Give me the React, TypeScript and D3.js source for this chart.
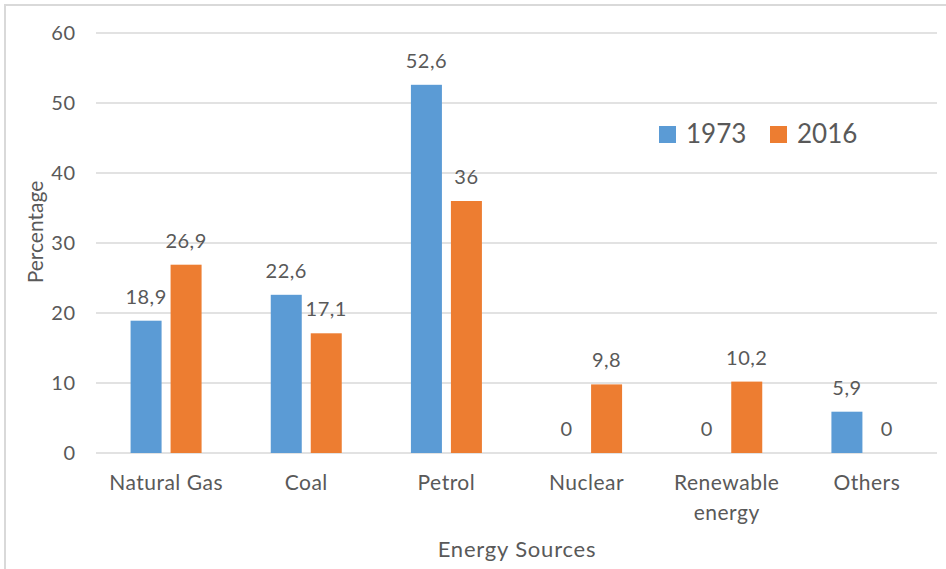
import React from "react";
import * as d3 from "d3";

const categories = ["Natural Gas", "Coal", "Petrol", "Nuclear", "Renewable energy", "Others"];
const series = ["1973", "2016"];
const values1973 = [18.9, 22.6, 52.6, 0, 0, 5.9];
const values2016 = [26.9, 17.1, 36, 9.8, 10.2, 0];
const yTicks = [0, 10, 20, 30, 40, 50, 60];
const colors = ["#5b9bd5", "#ed7d31"];

const W = 946;
const H = 569;
const FONT = "Lato, 'Open Sans', sans-serif";
const TEXT = "#595959";

const fmt = (v: number) => String(v).replace(".", ",");

export default function App() {
  const x = d3.scaleBand<string>().domain(categories).range([96, 937]);
  const y = d3.scaleLinear().domain([0, 60]).range([453, 33]);
  const barW = 31;
  const innerGap = 9;
  const seriesData = [values1973, values2016];

  return (
    <div style={{ position: "absolute", left: 0, top: 0 }}>
      <svg width={W} height={H} style={{ display: "block", background: "#fff" }} fontFamily={FONT}>
        {/* outer frame */}
        <line x1={4} y1={5} x2={W} y2={5} stroke="#d9d9d9" strokeWidth={2} />
        <line x1={5} y1={4} x2={5} y2={H} stroke="#d9d9d9" strokeWidth={2} />

        {/* gridlines and y tick labels */}
        {yTicks.map((t) => (
          <g key={t}>
            <line x1={96} x2={937} y1={y(t)} y2={y(t)} stroke="#d9d9d9" strokeWidth={1.3} />
            <text x={76} y={y(t)} dy="0.35em" textAnchor="end" fontSize={20} letterSpacing={0.8} fill={TEXT}>
              {t}
            </text>
          </g>
        ))}

        {/* bars and value labels */}
        {categories.map((c) => {
          const cx = (x(c) as number) + x.bandwidth() / 2;
          return (
            <g key={c}>
              {seriesData.map((vals, si) => {
                const v = vals[categories.indexOf(c)];
                const bx = si === 0 ? cx - innerGap / 2 - barW : cx + innerGap / 2;
                return (
                  <g key={si}>
                    <rect x={bx} y={y(v)} width={barW} height={y(0) - y(v)} fill={colors[si]} />
                    <text x={bx + barW / 2} y={y(v) - 17} textAnchor="middle" fontSize={20} letterSpacing={0.5} fill={TEXT}>
                      {fmt(v)}
                    </text>
                  </g>
                );
              })}
              {c === "Renewable energy" ? (
                <text x={cx} y={490} textAnchor="middle" fontSize={21} letterSpacing={0.5} fill={TEXT}>
                  <tspan x={cx}>Renewable</tspan>
                  <tspan x={cx} dy={30}>energy</tspan>
                </text>
              ) : (
                <text x={cx} y={490} textAnchor="middle" fontSize={21} letterSpacing={0.5} fill={TEXT}>
                  {c}
                </text>
              )}
            </g>
          );
        })}

        {/* axis titles */}
        <text x={517} y={557} textAnchor="middle" fontSize={22} letterSpacing={0.8} fill={TEXT}>
          Energy Sources
        </text>
        <text
          transform={`translate(43, 232) rotate(-90)`}
          textAnchor="middle"
          fontSize={21}
          fill={TEXT}
        >
          Percentage
        </text>

        {/* legend */}
        {series.map((s, i) => {
          const lx = i === 0 ? 659 : 770;
          return (
            <g key={s}>
              <rect x={lx} y={126} width={17} height={17} fill={colors[i]} />
              <text x={lx + 27} y={143} fontSize={26} fill={TEXT}>
                {s}
              </text>
            </g>
          );
        })}
      </svg>
    </div>
  );
}
